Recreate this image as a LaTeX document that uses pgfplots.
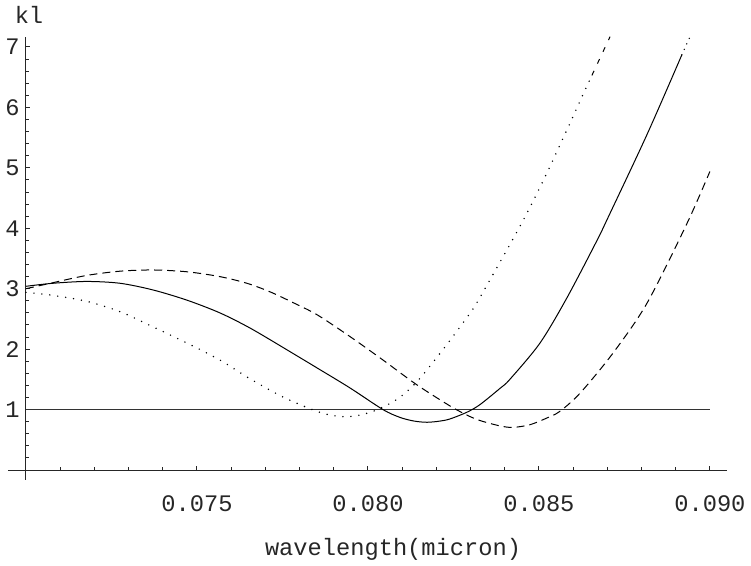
\documentclass[border=0pt]{standalone}
\usepackage{fontspec}
\setmainfont{Liberation Mono}
\setmonofont{Liberation Mono}
\usepackage{pgfplots}
\pgfplotsset{compat=1.18}
\usepackage{pgfplotstable}
\newcommand{\fs}{\fontsize{11.85}{14}\selectfont}

\pgfplotstableread{
x y
0.07000 3.04
0.07079 3.09
0.07178 3.12
0.07275 3.09
0.07371 2.98
0.07471 2.81
0.07567 2.60
0.07655 2.35
0.07751 2.03
0.07851 1.69
0.07947 1.36
0.08044 1.00
0.08094 0.87
0.08135 0.81
0.08173 0.79
0.08211 0.81
0.08240 0.845
0.08289 0.955
0.08327 1.08
0.08386 1.35
0.08415 1.50
0.08503 2.10
0.08582 2.85
0.08670 3.80
0.08699 4.14
0.08816 5.55
0.08918 6.87
}\Tsolid

\pgfplotstableread{
x y
0.08918 6.87
0.08930 7.02
0.08942 7.17
}\Tsolidend

\pgfplotstableread{
x y
0.07000 3.00
0.07079 3.10
0.07178 3.22
0.07275 3.29
0.07371 3.31
0.07471 3.28
0.07567 3.20
0.07646 3.09
0.07713 2.95
0.07781 2.77
0.07851 2.57
0.07947 2.21
0.08044 1.82
0.08143 1.41
0.08240 1.06
0.08289 0.91
0.08327 0.82
0.08386 0.73
0.08424 0.705
0.08474 0.75
0.08523 0.86
0.08561 0.97
0.08620 1.27
0.08716 1.93
0.08816 2.76
0.08933 4.08
0.09000 4.94
}\Tdashed

\pgfplotstableread{
x y
0.07000 2.94
0.07079 2.89
0.07178 2.79
0.07275 2.62
0.07371 2.37
0.07471 2.10
0.07567 1.82
0.07655 1.51
0.07751 1.21
0.07851 0.97
0.07909 0.89
0.07956 0.89
0.08015 0.97
0.08085 1.17
0.08143 1.46
0.08219 1.99
0.08298 2.59
0.08327 2.85
0.08415 3.73
0.08465 4.25
0.08523 4.91
0.08582 5.63
0.08640 6.35
0.08655 6.53
}\Tdotted

\pgfplotstableread{
x y
0.08655 6.53
0.08708 7.17
}\Tdottedend

\begin{document}
\begin{tikzpicture}
\path[use as bounding box] (0,0) rectangle (375.5pt,283pt);
\begin{axis}[
  at={(4pt,43pt)}, anchor=south west,
  scale only axis, width=359.5pt, height=221.5pt,
  xmin=-0.526, xmax=20.5, ymin=-0.165, ymax=7.165,
  x filter/.expression={1000*x-70},
  axis lines=middle,
  axis line style={-, black!85, line width=0.5pt},
  every inner x axis line/.append style={-},
  every inner y axis line/.append style={-},
  xtick={5,10,15,20},
  xticklabels={0.075,0.080,0.085,0.090},
  minor xtick={1,2,3,4,6,7,8,9,11,12,13,14,16,17,18,19},
  ytick={1,2,3,4,5,6,7},
  minor ytick={0.2,0.4,0.6,0.8,1.2,1.4,1.6,1.8,2.2,2.4,2.6,2.8,3.2,3.4,3.6,3.8,4.2,4.4,4.6,4.8,5.2,5.4,5.6,5.8,6.2,6.4,6.6,6.8},
  tick align=inside,
  major tick length=2pt,
  minor tick length=1.3pt,
  tick style={black!85, line width=0.5pt},
  /pgf/number format/assume math mode=true,
  xticklabel style={font=\fs, text=black!85, anchor=center, yshift=-17pt},
  yticklabel style={font=\fs, text=black!85, anchor=east, inner sep=0pt, xshift=-3pt},
  xlabel={wavelength(micron)},
  ylabel={kl},
  every axis x label/.style={at={(rel axis cs:0.5355,0)}, anchor=center, yshift=-34.5pt, font=\fs, text=black!85},
  every axis y label/.style={at={(rel axis cs:0.0292,1)}, anchor=center, yshift=11pt, font=\fs, text=black!85},
]
\addplot[black!80, line width=0.6pt, no marks] coordinates {(0.07,1) (0.09,1)};
\addplot[black, line width=0.5pt, smooth, no marks] table {\Tsolid};
\addplot[black, line width=0.75pt, no marks, line cap=round, dash pattern=on 0pt off 3pt] table {\Tsolidend};
\addplot[black, line width=0.5pt, smooth, no marks, dash pattern=on 4pt off 2.5pt] table {\Tdashed};
\addplot[black, line width=0.8pt, smooth, no marks, line cap=round, dash pattern=on 0pt off 4pt] table {\Tdotted};
\addplot[black, line width=0.5pt, no marks, dash pattern=on 2.5pt off 4pt] table {\Tdottedend};
\end{axis}
\end{tikzpicture}
\end{document}
